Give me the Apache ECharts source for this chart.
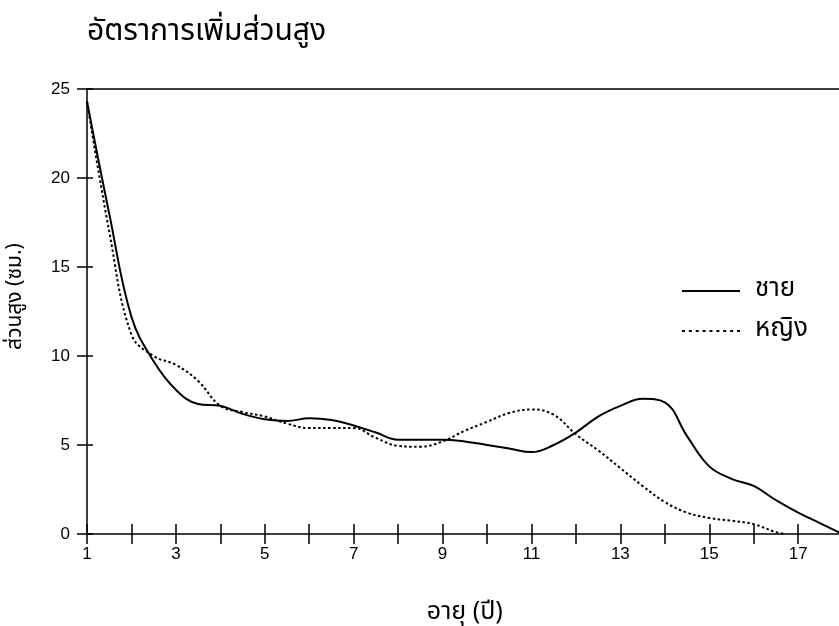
<!DOCTYPE html>
<html><head><meta charset="utf-8">
<script src="https://cdn.jsdelivr.net/npm/echarts@6/dist/echarts.min.js"></script>
<style>html,body{margin:0;padding:0;background:#fff}#c{width:839px;height:626px}</style>
</head><body><div id="c"></div>
<script>
const titleText = 'อัตราการเพิ่มส่วนสูง';
const xName = 'อายุ (ปี)';
const yName = 'ส่วนสูง (ซม.)';
const seriesNames = ['ชาย', 'หญิง'];
const maleAges = [1,1.5,2,2.5,3,3.5,4,4.5,5,5.5,6,6.5,7,7.5,8,8.5,9,9.5,10,10.5,11,11.5,12,12.5,13,13.5,14,14.5,15,15.5,16,16.5,17,17.5,18];
const maleValues = [24.3,18.0,12.2,9.7,8.1,7.3,7.2,6.75,6.45,6.35,6.5,6.4,6.1,5.7,5.3,5.3,5.3,5.2,5.0,4.8,4.6,5.0,5.7,6.6,7.2,7.6,7.4,5.5,3.8,3.1,2.7,1.9,1.2,0.6,0.0];
const femaleAges = [1,1.5,2,2.5,3,3.5,4,4.5,5,5.5,6,6.5,7,7.5,8,8.5,9,9.5,10,10.5,11,11.5,12,12.5,13,13.5,14,14.5,15,15.5,16,16.5,16.7];
const femaleValues = [24.3,17.0,11.2,10.0,9.5,8.6,7.2,6.85,6.6,6.2,5.95,5.95,5.95,5.4,4.95,4.9,5.2,5.8,6.3,6.8,7.0,6.7,5.6,4.7,3.7,2.7,1.8,1.2,0.9,0.75,0.55,0.1,0.0];
const yTicks = [0,5,10,15,20,25];

const pair = (a, b) => a.map((x, i) => [x, b[i]]);
const thai = '"Noto Sans Thai", "Noto Sans", "DejaVu Sans", sans-serif';
const num = '"Liberation Sans", Arial, sans-serif';
// legend icons: a solid bar and a row of dots
const solidIcon = 'path://M0,0H58V2H0Z';
let dotted = 'path://';
for (let i = 0; i < 9; i++) { const x0 = i * 6.9; dotted += 'M' + x0 + ',0h3v2h-3Z'; }
const chart = echarts.init(document.getElementById('c'));
const gridPos = {left: 87, top: 89, width: 755.6, height: 445, containLabel: false, outerBoundsMode: 'none'};
chart.setOption({
  animation: false,
  backgroundColor: '#fff',
  title: {text: titleText, left: 82, top: 14, textStyle: {fontFamily: thai, fontSize: 30, fontWeight: 'normal', color: '#000'}},
  legend: {
    orient: 'vertical', left: 677, top: 272, itemWidth: 58, itemHeight: 2, itemGap: 12,
    textStyle: {fontFamily: thai, fontSize: 26, color: '#000', lineHeight: 28, padding: [0,0,0,10]},
    data: [{name: seriesNames[0], icon: solidIcon}, {name: seriesNames[1], icon: dotted}]
  },
  grid: [Object.assign({}, gridPos), Object.assign({}, gridPos)],
  xAxis: [
    {type: 'value', gridIndex: 0, position: 'bottom', min: 1, max: 18, interval: 1,
     axisLine: {show: true, lineStyle: {color: '#000', width: 1.5}},
     axisTick: {show: true, length: 10, lineStyle: {color: '#000', width: 1.5}},
     axisLabel: {margin: 12, color: '#000', fontFamily: num, fontSize: 17, formatter: v => (v % 2 === 1 ? String(v) : '')},
     splitLine: {show: false},
     name: xName, nameLocation: 'middle', nameGap: 67,
     nameTextStyle: {fontFamily: thai, fontSize: 25, color: '#000'}},
    {type: 'value', gridIndex: 0, position: 'top', min: 1, max: 18, interval: 1,
     axisLine: {show: true, lineStyle: {color: '#000', width: 1.5}},
     axisTick: {show: false}, axisLabel: {show: false}, splitLine: {show: false}},
    {type: 'value', gridIndex: 1, position: 'bottom', min: 1, max: 18, interval: 1,
     axisLine: {show: false}, axisTick: {show: true, inside: true, length: 10, lineStyle: {color: '#000', width: 1.5}},
     axisLabel: {show: false}, splitLine: {show: false}}
  ],
  yAxis: [
    {type: 'value', gridIndex: 0, min: yTicks[0], max: yTicks[yTicks.length-1], interval: 5,
     axisLine: {show: true, lineStyle: {color: '#000', width: 1.5}},
     axisTick: {show: true, length: 10, lineStyle: {color: '#000', width: 1.5}},
     axisLabel: {margin: 17, color: '#000', fontFamily: num, fontSize: 17},
     splitLine: {show: false},
     name: yName, nameLocation: 'middle', nameGap: 60, nameRotate: 90,
     nameTextStyle: {fontFamily: thai, fontSize: 21, color: '#000', padding: [0, 0, 0, 30]}},
    {type: 'value', gridIndex: 1, min: 0, max: 25, interval: 5,
     axisLine: {show: false}, axisTick: {show: true, inside: true, length: 6, lineStyle: {color: '#000', width: 1.5}},
     axisLabel: {show: false}, splitLine: {show: false}}
  ],
  series: [
    {name: seriesNames[0], type: 'line', xAxisIndex: 0, yAxisIndex: 0, smooth: 0.4, symbol: 'none',
     data: pair(maleAges, maleValues), lineStyle: {color: '#000', width: 2}, itemStyle: {color: '#000'}},
    {name: seriesNames[1], type: 'line', xAxisIndex: 0, yAxisIndex: 0, smooth: 0.4, symbol: 'none',
     data: pair(femaleAges, femaleValues), lineStyle: {color: '#000', width: 2, type: [2.5, 2.5]}, itemStyle: {color: '#000'}}
  ]
});
</script></body></html>
